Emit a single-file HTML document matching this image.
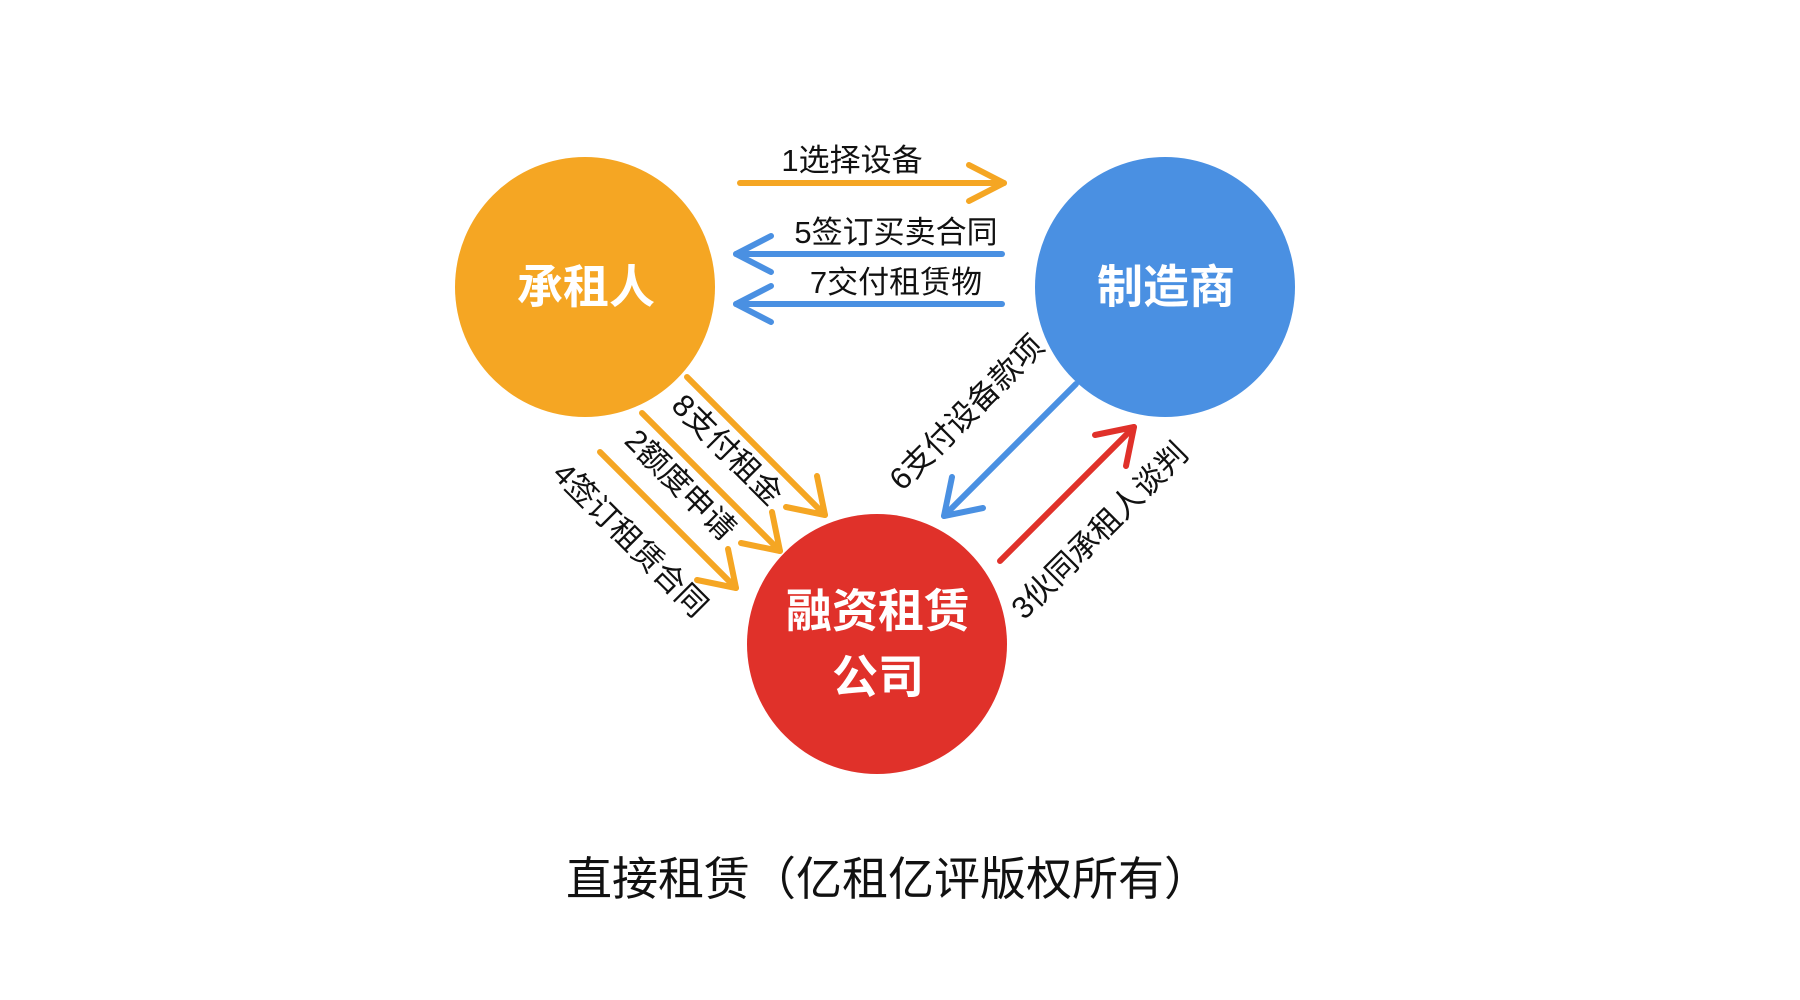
<!DOCTYPE html>
<html><head><meta charset="utf-8"><style>
html,body{margin:0;padding:0;background:#fff;width:1800px;height:1000px;overflow:hidden}
svg{display:block}
text{font-family:"Liberation Sans","Noto Sans CJK SC",sans-serif}
</style></head><body>
<svg width="1800" height="1000" viewBox="0 0 1800 1000">
<g fill="none" stroke-width="6" stroke-linecap="round" stroke-linejoin="round">
<circle cx="585" cy="287" r="130" fill="#F5A623" stroke="none"/>
<circle cx="1165" cy="287" r="130" fill="#4A90E2" stroke="none"/>
<circle cx="877" cy="644" r="130" fill="#E0312A" stroke="none"/>
<g stroke="#F5A623"><path d="M740 183 H1004"/><path d="M969 165 L1004 183 L969 201"/></g>
<g stroke="#4A90E2"><path d="M1002 254 H736"/><path d="M771 236 L736 254 L771 272"/></g>
<g stroke="#4A90E2"><path d="M1002 304 H736"/><path d="M771 286 L736 304 L771 322"/></g>
<g stroke="#F5A623">
<path d="M687 377 L825 515"/><path d="M786 507 L825 515 L817 476"/>
<path d="M642 413 L780 551"/><path d="M741 543 L780 551 L772 512"/>
<path d="M600 452 L736 588"/><path d="M697 580 L736 588 L728 549"/>
</g>
<g stroke="#4A90E2"><path d="M1076 384 L944 516"/><path d="M952 477 L944 516 L983 508"/></g>
<g stroke="#E0312A"><path d="M1000 561 L1134 427"/><path d="M1095 435 L1134 427 L1126 466"/></g>
</g>
<g font-size="31" fill="#111" text-anchor="middle">
<text x="852" y="171">1选择设备</text>
<text x="896" y="243">5签订买卖合同</text>
<text x="896" y="293">7交付租赁物</text>
<text transform="translate(727,450) rotate(45)" dy="10">8支付租金</text>
<text transform="translate(680,485) rotate(45)" dy="10">2额度申请</text>
<text transform="translate(630,540) rotate(45)" dy="10">4签订租赁合同</text>
<text transform="translate(967,413) rotate(-45)" dy="10">6支付设备款项</text>
<text transform="translate(1100,531) rotate(-45)" dy="10">3伙同承租人谈判</text>
</g>
<g font-size="46" font-weight="600" fill="#fff" text-anchor="middle">
<text x="586" y="303">承租人</text>
<text x="1166" y="303">制造商</text>
<text x="878" y="627">融资租赁</text>
<text x="878" y="693">公司</text>
</g>
<text x="888" y="895" font-size="46" fill="#111" text-anchor="middle">直接租赁（亿租亿评版权所有）</text>
</svg>
</body></html>
